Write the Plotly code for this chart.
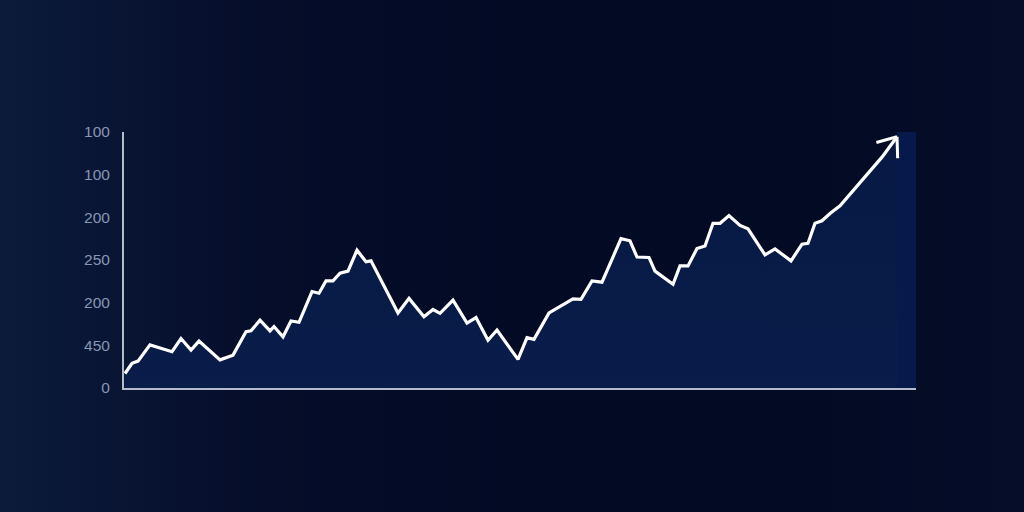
import math
import plotly.graph_objects as go

# ---- data (x in chart units, y in tick-slot units) ----
x_vals = [1, 8, 14, 26, 48, 57, 67, 75, 96, 109, 122, 127, 136, 146, 150, 159, 167, 175,
          188, 195, 202, 209, 216, 224, 233, 242, 247, 274, 285, 300, 309, 316, 329, 343,
          352, 364, 373, 394, 403, 410, 425, 436, 449, 457, 468, 478, 497, 506, 513, 525,
          531, 549, 556, 564, 573, 581, 589, 596, 605, 616, 624, 641, 651, 667, 678, 684,
          691, 698, 706, 716, 729, 743, 758, 773]
y_vals = [0.34, 0.58, 0.63, 1.01, 0.85, 1.16, 0.89, 1.10, 0.66, 0.77, 1.32, 1.34, 1.59, 1.34,
          1.44, 1.20, 1.57, 1.54, 2.26, 2.22, 2.51, 2.51, 2.69, 2.74, 3.23, 2.96, 2.98, 1.76,
          2.10, 1.67, 1.84, 1.75, 2.06, 1.52, 1.65, 1.12, 1.36, 0.67, 1.18, 1.14, 1.76, 1.92,
          2.09, 2.08, 2.51, 2.48, 3.50, 3.45, 3.07, 3.06, 2.74, 2.43, 2.86, 2.86, 3.27, 3.33,
          3.86, 3.86, 4.04, 3.81, 3.73, 3.12, 3.26, 2.98, 3.37, 3.39, 3.86, 3.92, 4.09, 4.27,
          4.62, 4.98, 5.41, 5.89]
tick_vals = [0, 1, 2, 3, 4, 5, 6]
tick_text = ["0", "450", "200", "250", "200", "100", "100"]

X_MAX = 792
Y_MAX = 6

L, R, T, B = 124, 108, 132, 124
W, H = 1024 - L - R, 512 - T - B

fig = go.Figure()

fig.add_trace(go.Scatter(
    x=x_vals, y=y_vals, mode="lines",
    line=dict(color="#ffffff", width=3.2),
    fill="tozeroy",
    fillgradient=dict(type="vertical",
                      colorscale=[[0, "#0a1d4a"], [1, "#061843"]]),
    hoverinfo="skip", showlegend=False,
))

# ---- background horizontal gradient (stripes) ----
def hexmix(c1, c2, t):
    a = [int(c1[i:i + 2], 16) for i in (1, 3, 5)]
    b = [int(c2[i:i + 2], 16) for i in (1, 3, 5)]
    return "#" + "".join(f"{round(a[k] + (b[k] - a[k]) * t):02x}" for k in range(3))

stops = [(0, "#0c1b3a"), (260, "#050d2a"), (520, "#020a24"), (800, "#030a24"), (1024, "#060d28")]
shapes = []
n = 64
for i in range(n):
    px0 = 1024 * i / n
    px1 = 1024 * (i + 1) / n + 1
    pc = (px0 + px1) / 2
    col = stops[-1][1]
    for j in range(len(stops) - 1):
        if stops[j][0] <= pc <= stops[j + 1][0]:
            t = (pc - stops[j][0]) / (stops[j + 1][0] - stops[j][0])
            col = hexmix(stops[j][1], stops[j + 1][1], t)
            break
    shapes.append(dict(type="rect", xref="paper", yref="paper", layer="below",
                       x0=(px0 - L) / W, x1=(px1 - L) / W,
                       y0=-B / H - 0.1, y1=(512 - B) / H + 0.1,
                       fillcolor=col, line=dict(width=0)))

# fill column to the right of the arrow tip
shapes.append(dict(type="rect", xref="x", yref="y", layer="below",
                   x0=x_vals[-1], x1=X_MAX, y0=0, y1=Y_MAX,
                   fillcolor="#07194a", line=dict(width=0)))

# ---- open arrowhead at the last point, oriented along the last segment ----
sx = W / X_MAX
sy = H / Y_MAX
dx = (x_vals[-1] - x_vals[-2]) * sx
dy = -(y_vals[-1] - y_vals[-2]) * sy
ang = math.atan2(dy, dx)
barb_len, barb_ang = 23, math.radians(38)
annotations = []
for s in (1, -1):
    a = ang + math.pi + s * barb_ang
    annotations.append(dict(
        x=x_vals[-1], y=y_vals[-1], xref="x", yref="y",
        ax=barb_len * math.cos(a), ay=barb_len * math.sin(a),
        showarrow=True, arrowhead=0, arrowwidth=3, arrowcolor="#ffffff",
        standoff=0, text="",
    ))

fig.update_layout(
    width=1024, height=512,
    margin=dict(l=L, r=R, t=T, b=B),
    paper_bgcolor="#040b26",
    plot_bgcolor="rgba(0,0,0,0)",
    shapes=shapes,
    xaxis=dict(range=[0, X_MAX], showgrid=False, zeroline=False, showticklabels=False,
               showline=True, linecolor="#b4bccb", linewidth=2, ticks=""),
    yaxis=dict(range=[0, Y_MAX], showgrid=False, zeroline=False,
               tickvals=tick_vals, ticktext=tick_text,
               tickfont=dict(family="Liberation Sans, Arial, sans-serif", size=15.5, color="#8796b4"),
               showline=True, linecolor="#b4bccb", linewidth=2, ticks="",
               ticklabelstandoff=9),
    annotations=annotations,
)

fig.write_html("out.html", config={"displayModeBar": False},
               post_script="document.body.style.margin='0';document.body.style.background='#040b26';")
